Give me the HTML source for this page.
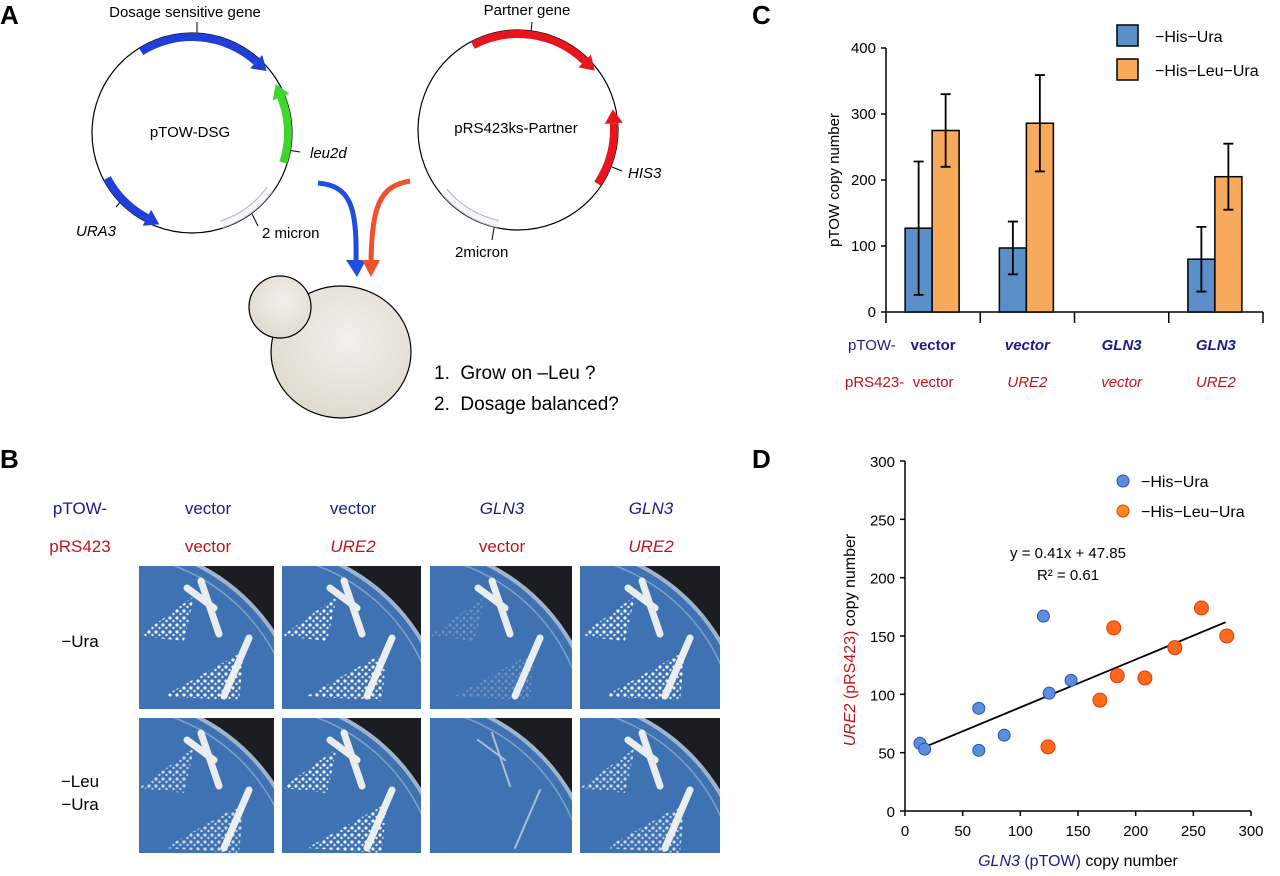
<!DOCTYPE html>
<html><head><meta charset="utf-8"><style>
html,body{margin:0;background:#fff;width:1280px;height:876px;overflow:hidden}
svg{display:block;font-family:"Liberation Sans",Arial,sans-serif}
</style></head><body>
<svg id="fig" width="1280" height="876" viewBox="0 0 1280 876" xmlns="http://www.w3.org/2000/svg">
<defs>
<pattern id="dots" width="7" height="7" patternUnits="userSpaceOnUse"><circle cx="2" cy="2" r="1.6" fill="#f2f4f8"/><circle cx="5.5" cy="5" r="1.2" fill="#e8ecf3"/></pattern>
<radialGradient id="cellg" cx="0.55" cy="0.4" r="0.7"><stop offset="0" stop-color="#f3f1ec"/><stop offset="1" stop-color="#dcd7cb"/></radialGradient>
</defs>
<!-- Panel A -->
<g>
<text x="0" y="24" font-size="26" font-weight="bold">A</text>
<text x="185" y="17" font-size="15" text-anchor="middle">Dosage sensitive gene</text>
<line x1="197" y1="22" x2="197" y2="33" stroke="#000"/>
<circle cx="192" cy="133" r="100" fill="none" stroke="#000" stroke-width="1.2"/>
<text x="190" y="137" font-size="15" text-anchor="middle">pTOW-DSG</text>
<text x="310" y="158" font-size="15" font-style="italic">leu2d</text>
<line x1="288" y1="150" x2="300" y2="152" stroke="#000"/>
<text x="76" y="236" font-size="15" font-style="italic">URA3</text>
<line x1="116" y1="207" x2="122" y2="200" stroke="#000"/>
<text x="262" y="238" font-size="15">2 micron</text>
<line x1="252" y1="214" x2="258" y2="226" stroke="#000"/>

<text x="527" y="15" font-size="15" text-anchor="middle">Partner gene</text>
<line x1="532" y1="22" x2="531" y2="32" stroke="#000"/>
<circle cx="518" cy="130" r="100" fill="none" stroke="#000" stroke-width="1.2"/>
<text x="516" y="133" font-size="15" text-anchor="middle">pRS423ks-Partner</text>
<text x="628" y="178" font-size="15" font-style="italic">HIS3</text>
<line x1="612" y1="167" x2="622" y2="171" stroke="#000"/>
<text x="455" y="257" font-size="15">2micron</text>
<line x1="494" y1="228" x2="492" y2="240" stroke="#000"/>

<g id="arcs"></g>
<path d="M318,183 C350,186 357,205 356,262" fill="none" stroke="#1f4fe0" stroke-width="5"/>
<polygon points="346,260 366,260 357,277" fill="#1f4fe0"/>
<path d="M410,181 C380,186 372,205 371,262" fill="none" stroke="#f0502a" stroke-width="5"/>
<polygon points="362,260 380,260 371,277" fill="#f0502a"/>
<ellipse cx="341" cy="352" rx="70" ry="66" fill="url(#cellg)" stroke="#000" stroke-width="1.2"/>
<circle cx="280" cy="307" r="31" fill="url(#cellg)" stroke="#000" stroke-width="1.2"/>
<text x="434" y="379" font-size="19">1.&#160;&#160;Grow on –Leu ?</text>
<text x="434" y="410" font-size="19">2.&#160;&#160;Dosage balanced?</text>
</g>

<!-- Panel B -->
<g>
<text x="0" y="468" font-size="26" font-weight="bold">B</text>
<g font-size="17" text-anchor="middle">
<text x="80" y="514" fill="#1a1a8c">pTOW-</text>
<text x="80" y="552" fill="#c0141c">pRS423</text>
<text x="208" y="514" fill="#1a1a8c">vector</text>
<text x="353" y="514" fill="#1a1a8c">vector</text>
<text x="502" y="514" fill="#1a1a8c" font-style="italic">GLN3</text>
<text x="651" y="514" fill="#1a1a8c" font-style="italic">GLN3</text>
<text x="208" y="552" fill="#c0141c">vector</text>
<text x="353" y="552" fill="#c0141c" font-style="italic">URE2</text>
<text x="502" y="552" fill="#c0141c">vector</text>
<text x="651" y="552" fill="#c0141c" font-style="italic">URE2</text>
<text x="80" y="647" fill="#000">−Ura</text>
<text x="80" y="787" fill="#000">−Leu</text>
<text x="80" y="810" fill="#000">−Ura</text>
</g>
<g id="plates"></g>
</g>

<!-- Panel C -->
<g>
<text x="752" y="24" font-size="26" font-weight="bold">C</text>
<g id="chartC"></g>
</g>
<!-- Panel D -->
<g>
<text x="752" y="468" font-size="26" font-weight="bold">D</text>
<g id="chartD"></g>
</g>
</svg>
<script>
const NS="http://www.w3.org/2000/svg";
function mk(parent,tag,attrs,txt){const e=document.createElementNS(NS,tag);for(const k in attrs)e.setAttribute(k,attrs[k]);if(txt!==undefined)e.textContent=txt;parent.appendChild(e);return e;}

// ---- Panel C data ----
const cCategoriesPtow=["vector","vector","GLN3","GLN3"];
const cCategoriesPrs=["vector","URE2","vector","URE2"];
const cHisUra=[127,97,0,80];
const cHisUraErr=[101,40,0,49];
const cHisLeuUra=[275,286,0,205];
const cHisLeuUraErr=[55,73,0,50];
const cYTicks=[0,100,200,300,400];

// ---- Panel D data ----
const dHisUraX=[13,17,64,64,86,120,125,144];
const dHisUraY=[58,53,88,52,65,167,101,112];
const dHisLeuUraX=[124,169,181,184,208,234,257,279];
const dHisLeuUraY=[55,95,157,116,114,140,174,150];
const dTicks=[0,50,100,150,200,250,300];
const dSlope=0.41, dIntercept=47.85;

// ---- Panel A arcs ----
(function(){
 const g=document.getElementById('arcs');
 function arc(cx,cy,r,a0,a1,color,name,open){
  const rad=a=>a*Math.PI/180;
  const p=a=>[cx+r*Math.cos(rad(a)),cy+r*Math.sin(rad(a))];
  const s=p(a0),e=p(a1);
  const sweep=a1>a0?1:0;
  const large=Math.abs(a1-a0)>180?1:0;
  const el=mk(g,'path',{d:`M${s[0]},${s[1]} A${r},${r} 0 ${large} ${sweep} ${e[0]},${e[1]}`,fill:'none',stroke:color,'stroke-width':open?6:8});
  
  
  if(open){el.setAttribute('stroke','#aab4bc');el.setAttribute('stroke-width','8');
   const inner=mk(g,'path',{d:el.getAttribute('d'),fill:'none',stroke:'#f4f6f8','stroke-width':6});
   
   return;}
  const dir=sweep?1:-1;const t=rad(a1);
  const tx=-Math.sin(t)*dir,ty=Math.cos(t)*dir;const nx=Math.cos(t),ny=Math.sin(t);
  const tip=[e[0]+tx*14,e[1]+ty*14];
  const ah=mk(g,'polygon',{points:`${e[0]+nx*9},${e[1]+ny*9} ${e[0]-nx*9},${e[1]-ny*9} ${tip[0]},${tip[1]}`,fill:color});
  
  
 }
 arc(192,133,96,-122,-48,'#1f3fd8','dsg-gene-arrow');
 arc(192,133,96,18,-22,'#3ed62a','leu2d-arrow');
 arc(192,133,96,152,118,'#1f3fd8','ura3-arrow');
 arc(192,133,96,36,72,'#ccc','two-micron-segment-1',true);
 arc(518,130,96,-118,-46,'#e8161c','partner-gene-arrow');
 arc(518,130,96,34,-4,'#e8161c','his3-arrow');
 arc(518,130,96,102,140,'#ccc','two-micron-segment-2',true);
})();

// ---- Panel B plates ----
(function(){
 const g=document.getElementById('plates');
 const cols=[[139,274],[282,421],[430,572],[580,720]];
 const rows=[[566,709],[718,853]];
 const growth=[[1,1,0.25,1],[0.8,1,0.1,0.8]];
 rows.forEach((r,ri)=>cols.forEach((c,ci)=>{
  const w=c[1]-c[0],h=r[1]-r[0];
  const pg=mk(g,'g',{});
  
  
  const id='clip'+ri+ci;
  const cp=mk(pg,'clipPath',{id:id});mk(cp,'rect',{x:c[0],y:r[0],width:w,height:h});
  const inner=mk(pg,'g',{'clip-path':`url(#${id})`});
  mk(inner,'rect',{x:c[0],y:r[0],width:w,height:h,fill:'#1b1d22'});
  const cx=c[0]-30,cy=r[0]+175,rr=195;
  mk(inner,'circle',{cx:cx,cy:cy,r:rr+4,fill:'#9fb4cc'});
  mk(inner,'circle',{cx:cx,cy:cy,r:rr,fill:'#3f72b2'});
  mk(inner,'circle',{cx:cx,cy:cy,r:rr-8,fill:'none',stroke:'#7fa0c8','stroke-width':1.5});
  const k=growth[ri][ci];
  if(k>0.2){
   mk(inner,'path',{d:`M${c[0]},${r[0]+70} L${c[0]+55},${r[0]+30} L${c[0]+45},${r[0]+75} Z`,fill:'url(#dots)',opacity:k});
   mk(inner,'path',{d:`M${c[0]+25},${r[0]+130} L${c[0]+105},${r[0]+85} L${c[0]+100},${r[0]+135} Z`,fill:'url(#dots)',opacity:k});
  }
  const sw=k>0.2?7:2;
  mk(inner,'path',{d:`M${c[0]+48},${r[0]+22} L${c[0]+75},${r[0]+42} M${c[0]+62},${r[0]+15} L${c[0]+80},${r[0]+68} M${c[0]+85},${r[0]+130} L${c[0]+110},${r[0]+72}`,stroke:'#f2f3f0','stroke-width':sw,'stroke-linecap':'round',fill:'none',opacity:k>0.2?0.95:0.6});
 }));
})();

// ---- Panel C chart ----
(function(){
 const g=document.getElementById('chartC');
 const x0=886,x1=1263,y0=312,yTop=48,vMax=400;
 const yS=v=>y0-(v/vMax)*(y0-yTop);
 const gw=(x1-x0)/cCategoriesPtow.length;
 const bw=27;
 const ax=mk(g,'line',{x1:x0,y1:yTop,x2:x0,y2:y0,stroke:'#000','stroke-width':1.5});
 
 
 const bx=mk(g,'line',{x1:x0,y1:y0,x2:x1,y2:y0,stroke:'#000','stroke-width':1.5});
 
 
 cYTicks.forEach(t=>{
  const y=yS(t);
  const tl=mk(g,'line',{x1:x0-5,y1:y,x2:x0,y2:y,stroke:'#000','stroke-width':1.5});
  
  
  const tt=mk(g,'text',{x:x0-10,y:y+5,'font-size':15,'text-anchor':'end'},t);
  
  
 });
 for(let i=0;i<=cCategoriesPtow.length;i++){
  const x=x0+gw*i;
  const tk=mk(g,'line',{x1:x,y1:y0,x2:x,y2:y0+11,stroke:'#000','stroke-width':1.5});
  
  
 }
 const yl=mk(g,'text',{x:0,y:0,'font-size':15,'text-anchor':'middle',transform:`translate(839,180) rotate(-90)`},'pTOW copy number');
 
 
 function bar(v,e,x,color,name){
  if(v<=0)return;
  const r=mk(g,'rect',{x:x,y:yS(v),width:bw,height:y0-yS(v),fill:color,stroke:'#000','stroke-width':1.5});
  
  
  const cx=x+bw/2;
  const eb=mk(g,'path',{d:`M${cx},${yS(v+e)} V${yS(v-e)} M${cx-5},${yS(v+e)} H${cx+5} M${cx-5},${yS(v-e)} H${cx+5}`,stroke:'#000','stroke-width':1.8,fill:'none'});
  
  
 }
 cHisUra.forEach((v,i)=>{
  const c=x0+gw*i+gw/2;
  bar(v,cHisUraErr[i],c-bw-1,'#5b8fc9','c-bar-his-ura-'+(i+1));
  bar(cHisLeuUra[i],cHisLeuUraErr[i],c-1,'#f8aa5c','c-bar-his-leu-ura-'+(i+1));
  const t1=mk(g,'text',{x:c,y:350,'font-size':15,'text-anchor':'middle',fill:'#1a1a8c','font-weight':'bold','font-style':(i===0?'normal':'italic')},cCategoriesPtow[i]);
  
  
  const t2=mk(g,'text',{x:c,y:387,'font-size':15,'text-anchor':'middle',fill:'#c0141c','font-style':(i===0?'normal':'italic')},cCategoriesPrs[i]);
  
  
 });
 const r1=mk(g,'text',{x:848,y:350,'font-size':15,fill:'#1a1a8c'},'pTOW-');
 
 
 const r2=mk(g,'text',{x:845,y:387,'font-size':15,fill:'#c0141c'},'pRS423-');
 
 
 [['#5b8fc9','−His−Ura',25],['#f8aa5c','−His−Leu−Ura',59]].forEach((l,i)=>{
  const s=mk(g,'rect',{x:1117,y:l[2],width:21,height:21,fill:l[0],stroke:'#000','stroke-width':1.5});
  
  
  const t=mk(g,'text',{x:1155,y:l[2]+17,'font-size':16},l[1]);
  
  
 });
})();

// ---- Panel D chart ----
(function(){
 const g=document.getElementById('chartD');
 const x0=905,x1=1251,y0=811,yTop=461,vMax=300;
 const xS=v=>x0+(v/vMax)*(x1-x0);
 const yS=v=>y0-(v/vMax)*(y0-yTop);
 const a1=mk(g,'line',{x1:x0,y1:yTop,x2:x0,y2:y0,stroke:'#000','stroke-width':1.5});
 
 
 const a2=mk(g,'line',{x1:x0,y1:y0,x2:x1,y2:y0,stroke:'#000','stroke-width':1.5});
 
 
 dTicks.forEach(t=>{
  const y=yS(t),x=xS(t);
  const l1=mk(g,'line',{x1:x0-5,y1:y,x2:x0,y2:y,stroke:'#000','stroke-width':1.5});
  
  
  const t1=mk(g,'text',{x:x0-10,y:y+6,'font-size':15,'text-anchor':'end'},t);
  
  
  const l2=mk(g,'line',{x1:x,y1:y0,x2:x,y2:y0+5,stroke:'#000','stroke-width':1.5});
  
  
  const t2=mk(g,'text',{x:x,y:y0+25,'font-size':15,'text-anchor':'middle'},t);
  
  
 });
 const xt=mk(g,'text',{x:1078,y:866,'font-size':16,'text-anchor':'middle'});
 
 
 mk(xt,'tspan',{fill:'#1a1a8c','font-style':'italic'},'GLN3');
 mk(xt,'tspan',{fill:'#1a1a8c'},' (pTOW)');
 mk(xt,'tspan',{fill:'#000'},' copy number');
 const yt=mk(g,'text',{x:0,y:0,'font-size':16,'text-anchor':'middle',transform:'translate(855,640) rotate(-90)'});
 
 
 mk(yt,'tspan',{fill:'#c0141c','font-style':'italic'},'URE2');
 mk(yt,'tspan',{fill:'#c0141c'},' (pRS423)');
 mk(yt,'tspan',{fill:'#000'},' copy number');
 const tl=mk(g,'line',{x1:xS(17),y1:yS(dSlope*17+dIntercept),x2:xS(278),y2:yS(dSlope*278+dIntercept),stroke:'#000','stroke-width':1.8});
 
 
 dHisUraX.forEach((v,i)=>{
  const c=mk(g,'circle',{cx:xS(v),cy:yS(dHisUraY[i]),r:6,fill:'#5b8fdc',stroke:'#2b4fc0','stroke-width':1});
  
  
 });
 dHisLeuUraX.forEach((v,i)=>{
  const c=mk(g,'circle',{cx:xS(v),cy:yS(dHisLeuUraY[i]),r:7,fill:'#ff6a1a',stroke:'#e03a10','stroke-width':1});
  
  
 });
 const e1=mk(g,'text',{x:1068,y:558,'font-size':15,'text-anchor':'middle'},'y = 0.41x + 47.85');
 
 
 const e2=mk(g,'text',{x:1068,y:580,'font-size':15,'text-anchor':'middle'},'R² = 0.61');
 
 
 [['#5b8fdc','#2b4fc0','−His−Ura',481],['#ff8a1a','#c05010','−His−Leu−Ura',511]].forEach((l,i)=>{
  const c=mk(g,'circle',{cx:1123,cy:l[3],r:6,fill:l[0],stroke:l[1]});
  
  
  const t=mk(g,'text',{x:1141,y:l[3]+6,'font-size':16},l[2]);
  
  
 });
})();
</script>
</body></html>
